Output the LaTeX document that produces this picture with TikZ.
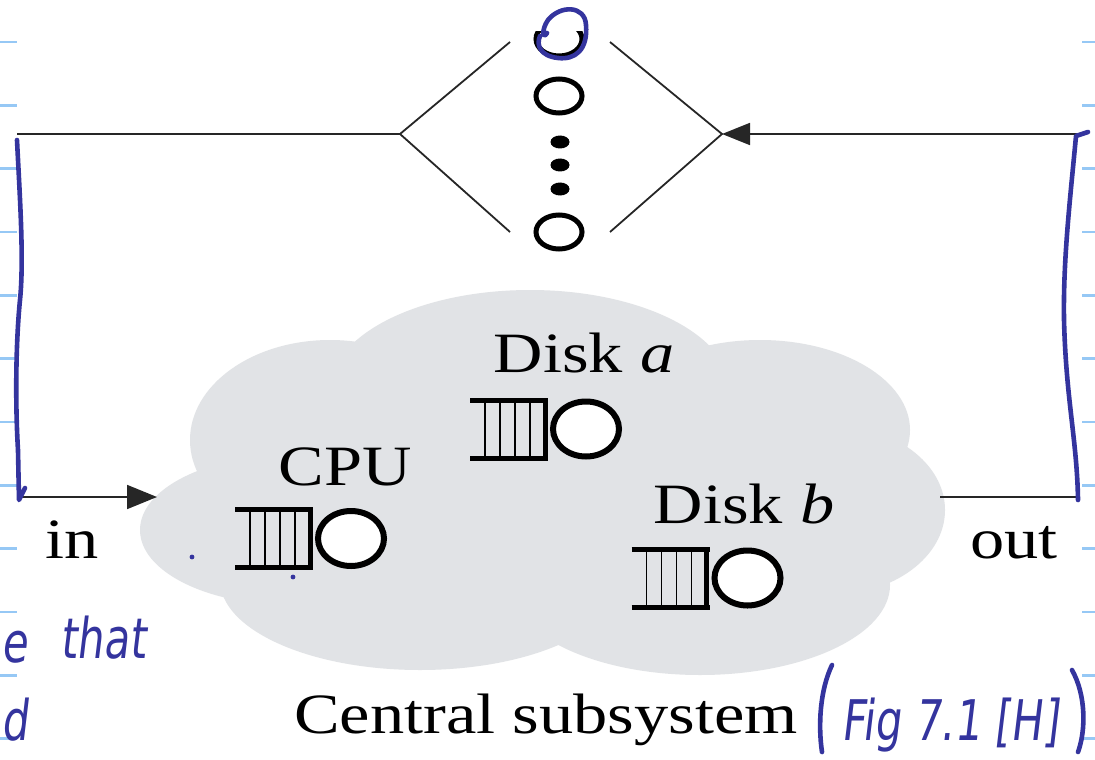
\documentclass[tikz,border=0pt]{standalone}
\usepackage{fontspec}
\setmainfont{Liberation Serif}[FakeStretch=1.2]
\newfontfamily\handfont{DejaVu Sans}[FakeStretch=0.75,FakeSlant=0.12]
\usetikzlibrary{shapes.geometric,arrows.meta}
\definecolor{cloudgray}{RGB}{225,227,230}
\definecolor{inkblue}{RGB}{52,52,158}
\definecolor{rulecol}{RGB}{150,200,245}
\begin{document}
\begin{tikzpicture}[x=0.5pt,y=-0.5pt,
  wire/.style={line width=0.9pt,black!85},
  server/.style={ellipse,draw,line width=3pt,fill=white,minimum width=33pt,minimum height=27.5pt,inner sep=0pt},
  thinkserver/.style={ellipse,draw,line width=2.5pt,minimum width=23pt,minimum height=17pt,inner sep=0pt},
  dotnode/.style={ellipse,fill,minimum width=9.5pt,minimum height=6.5pt,inner sep=0pt},
  lbl/.style={font=\fontsize{28.5}{34}\selectfont,anchor=base,inner sep=0pt},
  hand/.style={text=inkblue,font=\handfont\fontsize{28}{30}\selectfont,anchor=base,inner sep=0pt},
  ink/.style={draw=inkblue,line width=2.3pt,line cap=round,line join=round},
  rulemark/.style={rulecol,line width=1.3pt},
  tip/.style={-{Triangle[length=15pt,width=12pt]}},
  queue/.pic={
    \draw[line width=2.5pt] (-80,-29) -- (-2,-29);
    \draw[line width=2.5pt] (-80,29) -- (-2,29);
    \draw[line width=2.5pt] (-5,-29) -- (-5,29);
    \foreach \qx in {-20,-35,-50,-65} \draw[line width=0.6pt] (\qx,-29) -- (\qx,29);
  }]
\useasboundingbox (0,0) rectangle (1095,759);
\fill[white] (0,0) rectangle (1095,759);

% ruled page marks
\foreach \ry in {42,105.3,168.6,232,295.3,358.6,422,485.3,548.6,612,675.3,738.6} {
  \draw[rulemark] (0,\ry) -- (17,\ry);
  \draw[rulemark] (1082,\ry) -- (1095,\ry);
}

% cloud
\begin{scope}[cloudgray]
\fill (530,390) ellipse [x radius=200,y radius=100];
\fill (330,440) ellipse [x radius=140,y radius=100];
\fill (290,530) ellipse [x radius=150,y radius=75];
\fill (420,580) ellipse [x radius=200,y radius=90];
\fill (700,585) ellipse [x radius=190,y radius=90];
\fill (830,510) ellipse [x radius=115,y radius=85];
\fill (760,430) ellipse [x radius=150,y radius=90];
\fill (560,490) ellipse [x radius=300,y radius=140];
\end{scope}

% corner coordinates
\coordinate (tl) at (17,134);
\coordinate (bl) at (17,497);
\coordinate (tr) at (1078,134);
\coordinate (br) at (1078,497);
\coordinate (dl) at (400,134);
\coordinate (dr) at (722,134);
\coordinate (dlu) at (510,42);
\coordinate (dld) at (510,232);
\coordinate (dru) at (610,42);
\coordinate (drd) at (610,232);
\coordinate (cin) at (157,497);
\coordinate (cout) at (940,497);

% terminals
\node[thinkserver] (t1) at (559,39) {};
\node[thinkserver] (t2) at (559,96) {};
\node[dotnode] (d1) at (560,142) {};
\node[dotnode] (d2) at (560,165) {};
\node[dotnode] (d3) at (560,189) {};
\node[thinkserver] (t3) at (559,232) {};
\fill[white] (525,0) rectangle (595,31);

% diamond
\draw[wire] (dlu) -- (dl) -- (dld);
\draw[wire] (dru) -- (dr) -- (drd);

% loop (printed part ends at the page edges)
\draw[wire] (dl) -- (tl);
\draw[wire,tip] (bl) -- (cin);
\draw[wire] (cout) -- (br);
\draw[wire,-{Triangle[length=14pt,width=11pt]}] (tr) -- (dr);

% servers
\node[server] (cpu) at (351,538.5) {};
\node[server] (diska) at (586,429) {};
\node[server] (diskb) at (747.5,578) {};
\pic at (cpu.west) {queue};
\pic at (diska.west) {queue};
\pic at (diskb.west) {queue};

% labels
\node[lbl] (lcpu) at (345,485) {CPU};
\node[lbl] (la) at (584,372) {Disk \textit{a}};
\node[lbl] (lb) at (744,523) {Disk \textit{b}};
\node[lbl] (lin) at (72,558) {in};
\node[lbl] (lout) at (1014,558) {out};
\node[lbl] (lcs) at (546,733) {Central subsystem};

% handwritten annotations
\draw[ink] (17,140) .. controls (20,200) and (24,260) .. (20,300)
  .. controls (16,340) and (15,400) .. (18,450) -- (19,500) -- (25,488);
\draw[ink] (1088,132) -- (1076,136) .. controls (1070,200) and (1063,260) .. (1064,320)
  .. controls (1066,400) and (1077,440) .. (1078,500);
\draw[ink] (547,33) .. controls (543,40) and (541,30) .. (548,20)
  .. controls (560,5) and (585,5) .. (586,25)
  .. controls (588,50) and (575,60) .. (558,58)
  .. controls (540,56) and (536,45) .. (540,36);
\draw[ink] (832,665) .. controls (820,690) and (818,725) .. (822,752);
\draw[ink] (1072,670) .. controls (1086,695) and (1086,730) .. (1078,752);
\node[hand] (fig) at (950,740) {Fig 7.1 [H]};
\node[hand,anchor=base west] (le) at (1,662) {e};
\node[hand] (that) at (103,658) {that};
\node[hand,anchor=base west] (dd) at (1,740) {d};
\fill[inkblue] (192,557) circle (1.2pt);
\fill[inkblue] (293,577) circle (1.2pt);
\end{tikzpicture}
\end{document}
